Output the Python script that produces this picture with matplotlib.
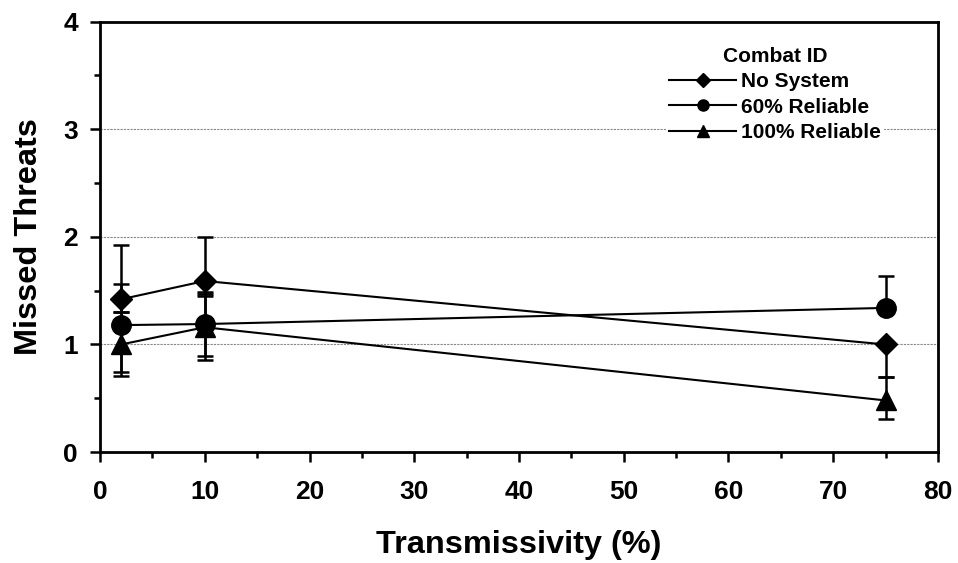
import numpy as np
import matplotlib.pyplot as plt
from matplotlib.ticker import MultipleLocator

plt.rcParams['font.family'] = ['Liberation Sans', 'DejaVu Sans']
plt.rcParams['font.weight'] = 'bold'

# data
transmissivity = [2, 10, 75]
series_names = ['No System', '60% Reliable', '100% Reliable']
no_system = [1.42, 1.59, 1.00]
reliable_60 = [1.18, 1.19, 1.34]
reliable_100 = [1.00, 1.16, 0.48]

# error bar ends (lower, upper)
no_system_lo = [1.30, 1.47, 0.70]
no_system_hi = [1.92, 2.00, 1.00]
reliable_60_lo = [0.74, 0.89, 1.34]
reliable_60_hi = [1.56, 1.49, 1.64]
reliable_100_lo = [0.71, 0.86, 0.31]
reliable_100_hi = [1.30, 1.45, 0.70]

fig = plt.figure(figsize=(9.58, 5.63), dpi=100)
ax = fig.add_axes([0.1044, 0.197, 0.8747, 0.7645])

series = [
    (no_system, no_system_lo, no_system_hi, 'D', 11),
    (reliable_60, reliable_60_lo, reliable_60_hi, 'o', 14),
    (reliable_100, reliable_100_lo, reliable_100_hi, '^', 15),
]

x = np.array(transmissivity)
for (vals, lo, hi, mk, ms), name in zip(series, series_names):
    vals = np.array(vals)
    yerr = [vals - np.array(lo), np.array(hi) - vals]
    ax.errorbar(x, vals, yerr=yerr, fmt='none', ecolor='black',
                elinewidth=1.8, capsize=5.5, capthick=1.8, zorder=3)
    ax.plot(x, vals, color='black', lw=1.5, marker=mk, ms=ms, zorder=4)
    ax.plot([], [], color='black', lw=1.5, marker=mk,
            ms=8 if mk != 'D' else 7, label=name)

ax.set_xlim(0, 80)
ax.set_ylim(0, 4)
ax.xaxis.set_major_locator(MultipleLocator(10))
ax.xaxis.set_minor_locator(MultipleLocator(5))
ax.yaxis.set_major_locator(MultipleLocator(1))
ax.yaxis.set_minor_locator(MultipleLocator(0.5))
ax.tick_params(which='major', direction='out', length=7, width=1.8,
               labelsize=19)
ax.tick_params(axis='x', which='major', pad=13)
ax.tick_params(axis='y', which='major', pad=9)
ax.tick_params(which='minor', direction='out', length=4.5, width=1.8)

for y in [1, 2, 3]:
    ax.axhline(y, color='#888888', lw=0.8, ls=(0, (2, 1)), zorder=1)

for sp in ax.spines.values():
    sp.set_linewidth(2)

ax.set_xlabel('Transmissivity (%)', fontsize=23.4, fontweight='bold',
              labelpad=19)
ax.set_ylabel('Missed Threats', fontsize=23.4, fontweight='bold',
              labelpad=14)

leg = ax.legend(title='Combat ID', loc='upper right',
                bbox_to_anchor=(0.947, 0.97), frameon=True, fancybox=False,
                edgecolor='white', framealpha=1, fontsize=15,
                title_fontsize=15, handlelength=3.2, handletextpad=0.25,
                labelspacing=0.3, borderpad=0.1)
leg.get_title().set_fontweight('bold')
leg.set_zorder(2)

fig.savefig('out.png', dpi=100)
